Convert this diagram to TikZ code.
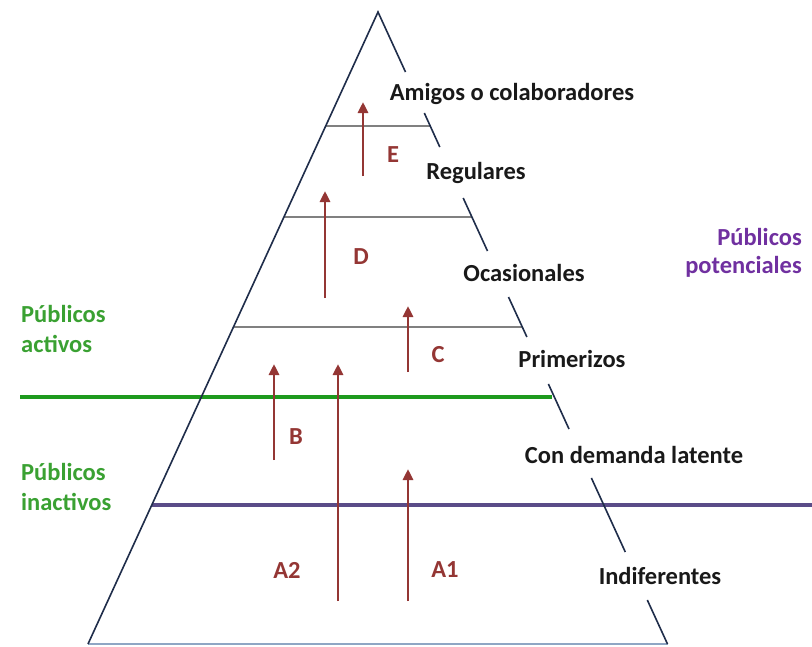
\documentclass[tikz,border=0pt]{standalone}
\usepackage{fontspec}
\setmainfont{Carlito}
\usetikzlibrary{arrows.meta}
\definecolor{edge}{HTML}{1F2D4A}
\definecolor{arr}{HTML}{943634}
\definecolor{grn}{HTML}{1E9A1E}
\definecolor{grntxt}{HTML}{3AA132}
\definecolor{purp}{HTML}{5A4C88}
\definecolor{purtxt}{HTML}{7030A0}
\definecolor{gry}{HTML}{808080}
\definecolor{basec}{HTML}{8FA6C4}
\tikzset{
  side/.style={draw=edge, line width=1.6pt},
  level/.style={draw=gry, line width=1.6pt},
  upar/.style={draw=arr, line width=2.8pt, -{Triangle[length=11pt,width=10pt]}},
  lbl/.style={font=\fontsize{24.5}{29}\selectfont\bfseries, text=black!90, anchor=base, inner sep=0pt},
  alb/.style={font=\fontsize{24.5}{29}\selectfont\bfseries, text=arr, inner sep=0pt},
  gtxt/.style={font=\fontsize{24.5}{29}\selectfont\bfseries, text=grntxt, anchor=base west, inner sep=0pt},
  ptxt/.style={font=\fontsize{24.5}{29}\selectfont\bfseries, text=purtxt, anchor=base east, inner sep=0pt}
}
\begin{document}
\begin{tikzpicture}[x=1pt,y=-1pt]
\useasboundingbox[fill=white] (0,0) rectangle (812,646);
% triangle corners
\coordinate (apex) at (378,12);
\coordinate (bl) at (88,644);
\coordinate (br) at (667.5,644);
% right side segments
\coordinate (r1) at (405.5,72);
\coordinate (r2a) at (424.3,113);  \coordinate (r2b) at (439.8,147);
\coordinate (r3a) at (463.2,198);  \coordinate (r3b) at (487.5,251);
\coordinate (r4a) at (508.5,297);  \coordinate (r4b) at (526.9,337);
\coordinate (r5a) at (548.4,384);  \coordinate (r5b) at (569,429);
\coordinate (r6a) at (591.4,478);  \coordinate (r6b) at (625.3,552);
\coordinate (r7a) at (647.3,600);
% level lines
\coordinate (g1l) at (325.7,126); \coordinate (g1r) at (430.2,126);
\coordinate (g2l) at (283.9,217); \coordinate (g2r) at (471.9,217);
\coordinate (g3l) at (233.4,327); \coordinate (g3r) at (522.3,327);
\coordinate (gl) at (20,397);     \coordinate (gr) at (552,397);
\coordinate (pl) at (151.8,505);  \coordinate (pr) at (812,505);
% levels
\draw[level] (g1l) -- (g1r);
\draw[level] (g2l) -- (g2r);
\draw[level] (g3l) -- (g3r);
\draw[draw=grn, line width=4pt] (gl) -- (gr);
\draw[draw=purp, line width=4.5pt] (pl) -- (pr);
% base
\draw[draw=basec, line width=1.6pt] (bl) -- (br);
% sides
\draw[side] (bl) -- (apex) -- (r1);
\draw[side] (r2a) -- (r2b);
\draw[side] (r3a) -- (r3b);
\draw[side] (r4a) -- (r4b);
\draw[side] (r5a) -- (r5b);
\draw[side] (r6a) -- (r6b);
\draw[side] (r7a) -- (br);
% arrows
\coordinate (e0) at (363,176); \coordinate (e1) at (363,102);
\coordinate (d0) at (325,298); \coordinate (d1) at (325,191);
\coordinate (c0) at (408,372); \coordinate (c1) at (408,306);
\coordinate (b0) at (274,460); \coordinate (b1) at (274,364);
\coordinate (l0) at (338,601); \coordinate (l1) at (338,364);
\coordinate (a0) at (408,601); \coordinate (a1) at (408,469);
\draw[upar] (e0) -- (e1);
\draw[upar] (d0) -- (d1);
\draw[upar] (c0) -- (c1);
\draw[upar] (b0) -- (b1);
\draw[upar] (l0) -- (l1);
\draw[upar] (a0) -- (a1);
% arrow labels
\node[alb] (le) at (393,155) {E};
\node[alb] (ld) at (361,257) {D};
\node[alb] (lc) at (438,355) {C};
\node[alb] (lb) at (296,437) {B};
\node[alb] (la2) at (287,570) {A2};
\node[alb] (la1) at (445,570) {A1};
% level names
\node[lbl] (amigos) at (512,100) {Amigos o colaboradores};
\node[lbl] (regulares) at (476,179) {Regulares};
\node[lbl] (ocasionales) at (524,281) {Ocasionales};
\node[lbl] (primerizos) at (572,367) {Primerizos};
\node[lbl] (demanda) at (634,463) {Con demanda latente};
\node[lbl] (indif) at (660,584) {Indiferentes};
% side labels
\node[gtxt] (act1) at (21,322) {Públicos};
\node[gtxt] (act2) at (21,352) {activos};
\node[gtxt] (ina1) at (21,480) {Públicos};
\node[gtxt] (ina2) at (21,510) {inactivos};
\node[ptxt] (pot1) at (802,245) {Públicos};
\node[ptxt] (pot2) at (802,273) {potenciales};
\end{tikzpicture}
\end{document}
